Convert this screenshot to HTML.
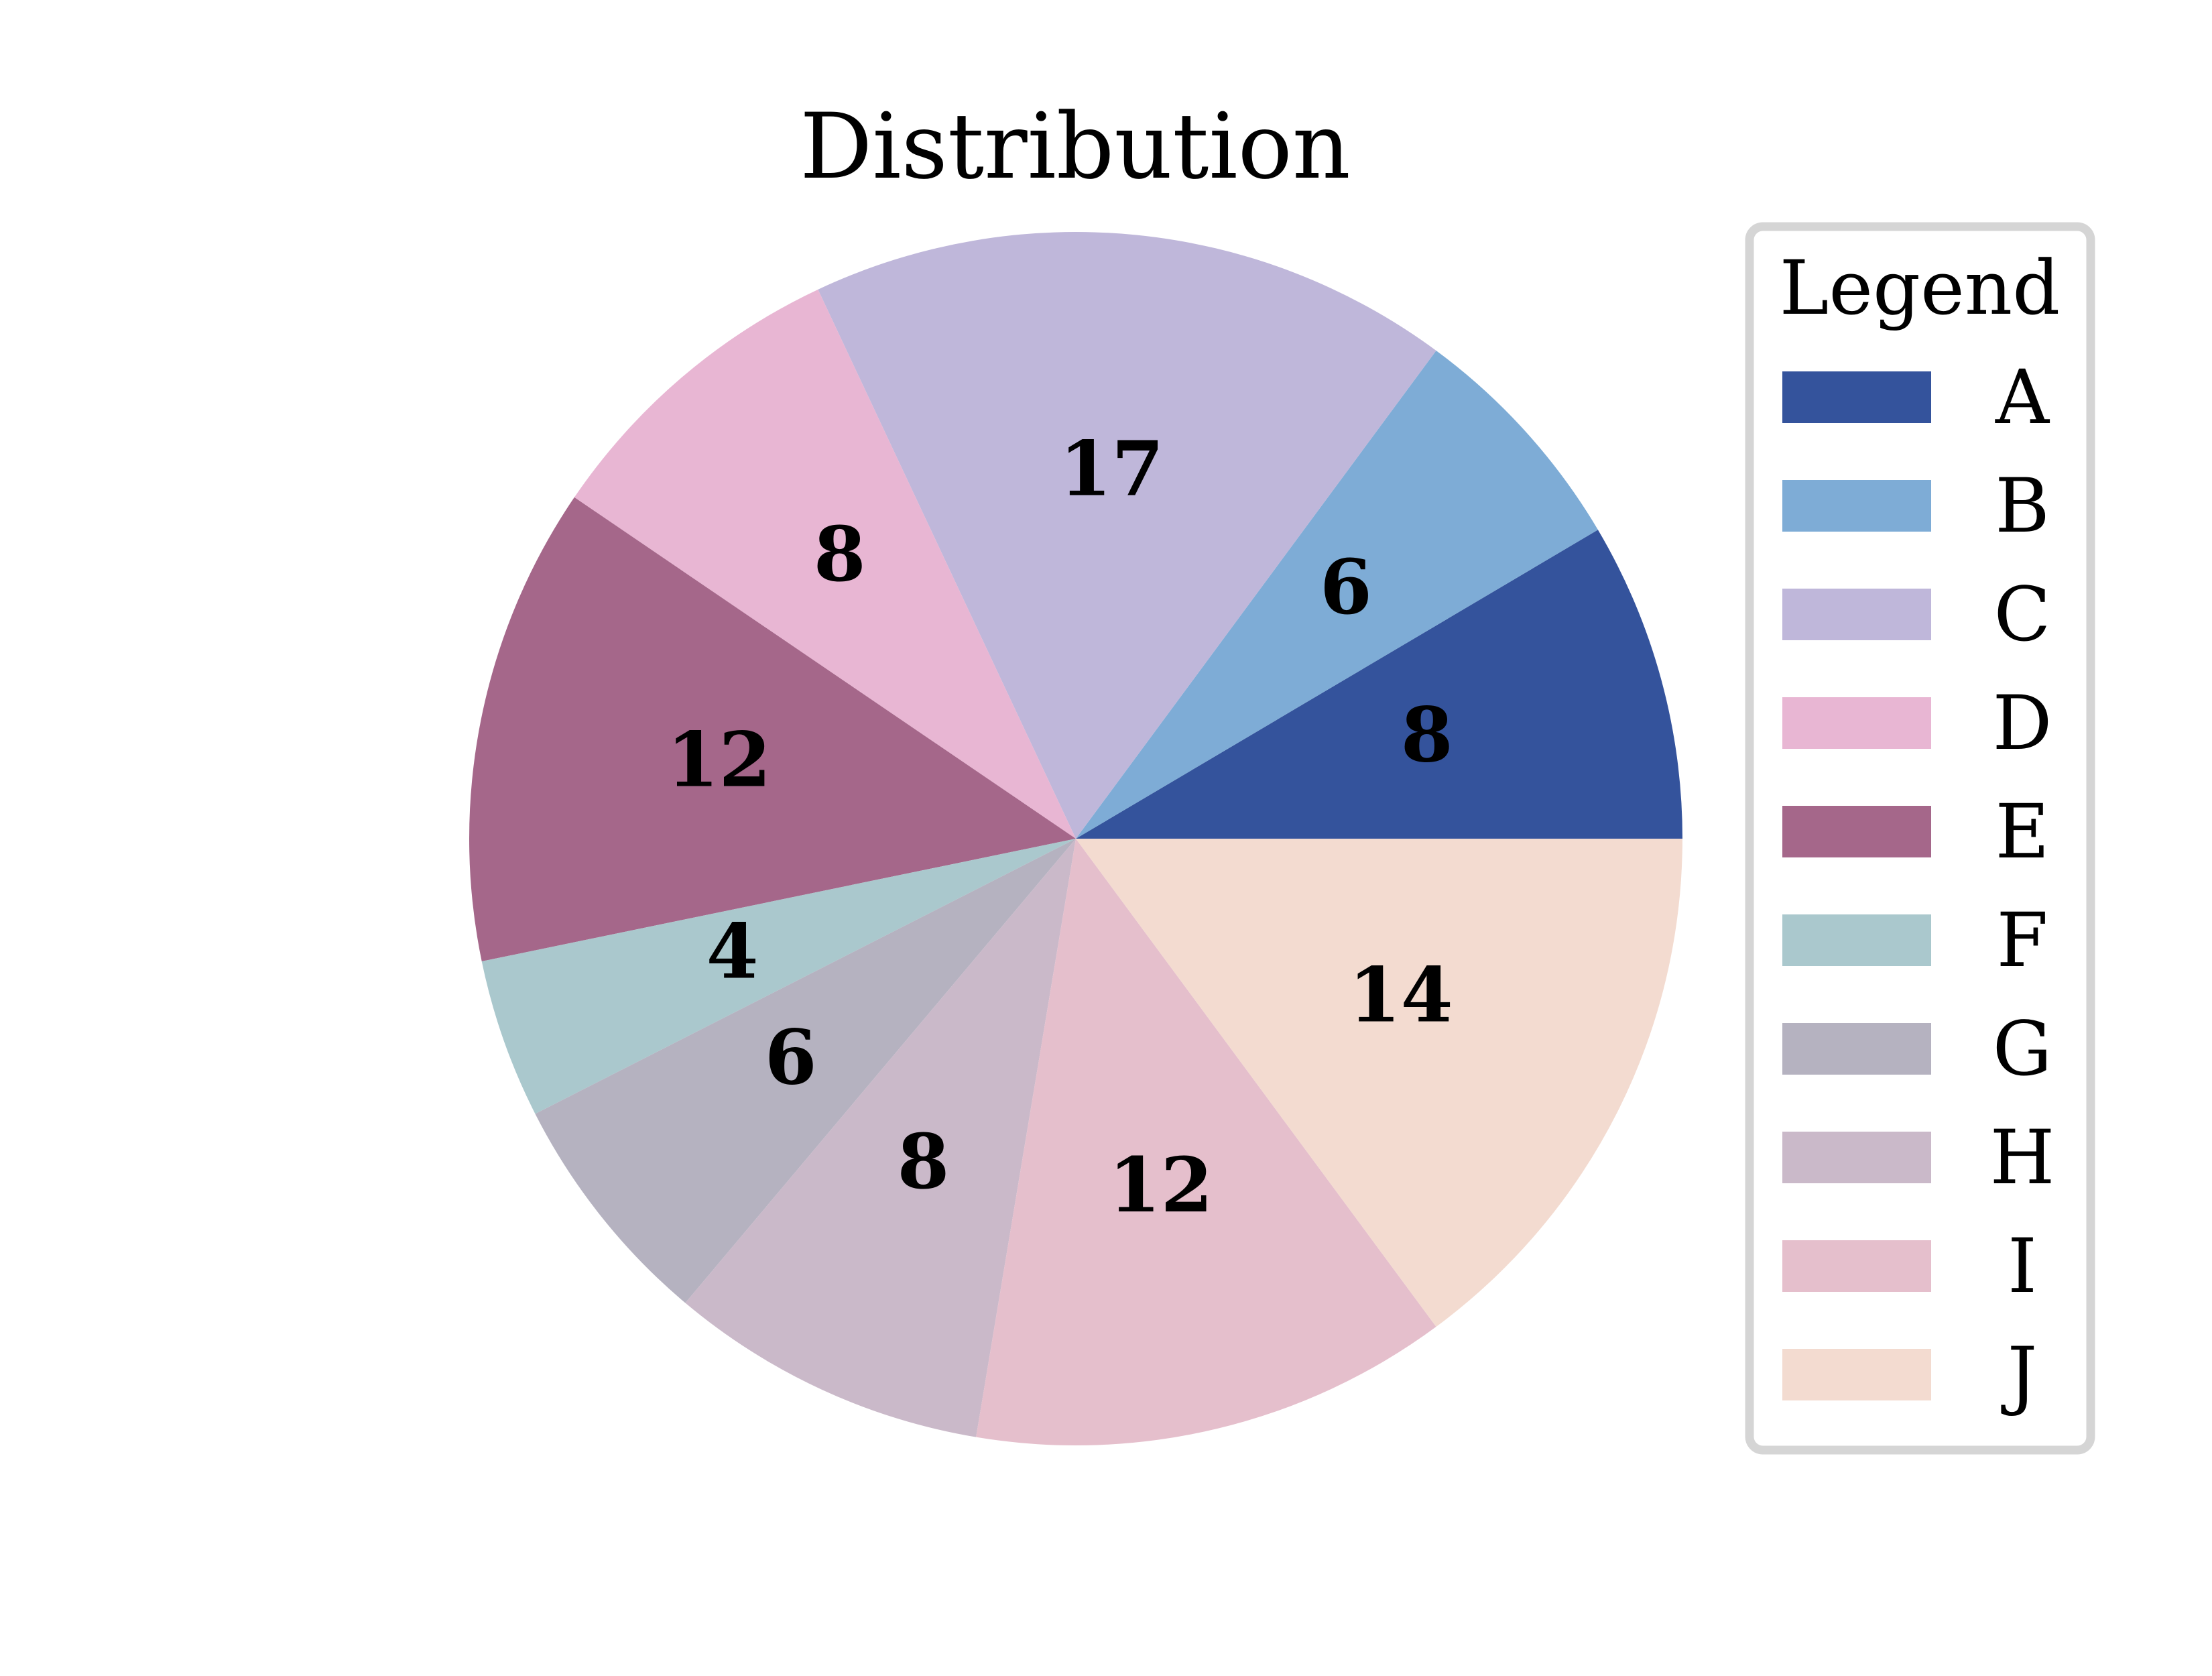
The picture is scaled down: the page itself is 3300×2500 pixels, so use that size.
<!DOCTYPE html>
<html><head><meta charset="utf-8"><style>
html,body{margin:0;padding:0;background:#fff;}
svg{display:block;}
text{font-family:"DejaVu Serif","Liberation Serif",serif;}
</style></head><body>
<svg id="chart" width="3300" height="2500" viewBox="0 0 3300 2500" xmlns="http://www.w3.org/2000/svg">
<rect width="3300" height="2500" fill="#fff"/>
<text x="1604" y="265" font-size="135" text-anchor="middle">Distribution</text>
<g id="slices"></g>
<g id="labels"></g>
<rect x="2610" y="338" width="509" height="1825" rx="20" fill="#fff" stroke="#d5d5d5" stroke-width="13"/>
<text x="2864" y="468" font-size="111" text-anchor="middle">Legend</text>
<g id="legend"></g>
</svg>
<script>
const categories = ["A","B","C","D","E","F","G","H","I","J"];
const values = [8,6,16.1,8,12,4,6,8,12,14];
const valueLabels = ["8","6","17","8","12","4","6","8","12","14"];
const colors = ["#34539c","#7eacd6","#bfb7da","#e8b6d3","#a5678a","#aac8cd","#b5b2c0","#cab9c9","#e5bfcc","#f3dbd0"];
const NS = "http://www.w3.org/2000/svg";
const cx = 1605, cy = 1251, r = 905;
const total = values.reduce((a,b)=>a+b,0);
function pt(angDeg, rad){const a=angDeg*Math.PI/180;return [cx+rad*Math.cos(a), cy-rad*Math.sin(a)];}
const gS=document.getElementById('slices'), gL=document.getElementById('labels'), gLeg=document.getElementById('legend');
let start=0;
values.forEach((v,i)=>{
  const sweep=v/total*360, end=start+sweep;
  const p1=pt(start,r), p2=pt(end,r);
  const path=document.createElementNS(NS,'path');
  path.setAttribute('d',`M${cx},${cy} L${p1[0]},${p1[1]} A${r},${r} 0 ${sweep>180?1:0} 0 ${p2[0]},${p2[1]} Z`);
  path.setAttribute('fill',colors[i]);
  
  
  gS.appendChild(path);
  const lp=pt(start+sweep/2, r*0.6);
  const t=document.createElementNS(NS,'text');
  t.setAttribute('x',lp[0]); t.setAttribute('y',lp[1]+28);
  t.setAttribute('font-size','112'); t.setAttribute('font-weight','bold'); t.setAttribute('text-anchor','middle');
  t.textContent=valueLabels[i];
  
  
  gL.appendChild(t);
  start=end;
  const y=554+i*162;
  const rc=document.createElementNS(NS,'rect');
  rc.setAttribute('x',2659); rc.setAttribute('y',y); rc.setAttribute('width',222); rc.setAttribute('height',77);
  rc.setAttribute('fill',colors[i]);
  
  
  gLeg.appendChild(rc);
  const lt=document.createElementNS(NS,'text');
  lt.setAttribute('x',3017); lt.setAttribute('y',y+77); lt.setAttribute('font-size','111'); lt.setAttribute('text-anchor','middle');
  lt.textContent=categories[i];
  
  
  gLeg.appendChild(lt);
});
</script>
</body></html>
